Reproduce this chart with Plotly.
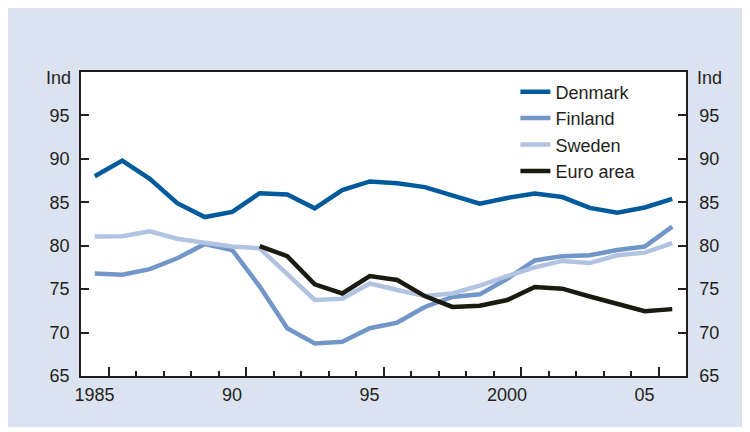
import plotly.graph_objects as go

# mid-year observations, 1984.5 .. 2005.5
years = [1984.5 + i for i in range(22)]

denmark = [88.0, 89.8, 87.7, 84.9, 83.3, 83.9, 86.05, 85.9, 84.3, 86.4, 87.4,
           87.2, 86.75, 85.8, 84.85, 85.5, 86.0, 85.6, 84.35, 83.8, 84.4, 85.4]
finland = [76.8, 76.65, 77.3, 78.55, 80.2, 79.5, 75.3, 70.5, 68.75, 68.95, 70.5,
           71.15, 72.95, 74.1, 74.4, 76.2, 78.3, 78.8, 78.9, 79.5, 79.9, 82.2]
sweden = [81.05, 81.1, 81.65, 80.8, 80.35, 79.9, 79.7, 76.8, 73.75, 73.9, 75.65,
          74.9, 74.2, 74.5, 75.4, 76.5, 77.5, 78.25, 78.0, 78.9, 79.2, 80.3]
euro_years = years[6:]
euro_area = [79.95, 78.8, 75.55, 74.5, 76.5, 76.05, 74.2, 72.95, 73.1, 73.75,
             75.25, 75.05, 74.15, 73.3, 72.45, 72.7]

tick_years = [1985, 1990, 1995, 2000, 2005]
tick_text = ["1985", "90", "95", "2000", "05"]
y_ticks = [65, 70, 75, 80, 85, 90, 95]

FONT = "Liberation Sans, Arial, sans-serif"
INK = "#231f20"
PANEL = "#dce3f0"
FS = 18

fig = go.Figure()

series = [
    ("Denmark", years, denmark, "#005a9c"),
    ("Finland", years, finland, "#7396c8"),
    ("Sweden", years, sweden, "#b2c3e1"),
    ("Euro area", euro_years, euro_area, "#1b1a10"),
]
for name, xs, ys, col in series:
    fig.add_trace(go.Scatter(
        x=xs, y=ys, mode="lines", name=name,
        line=dict(color=col, width=4.5),
    ))

# invisible trace so the right-hand axis is drawn
fig.add_trace(go.Scatter(x=years, y=denmark, yaxis="y2", mode="lines",
                         line=dict(width=0), opacity=0, showlegend=False,
                         hoverinfo="skip"))

# grey-blue panel behind the chart, white plot area on top of it
fig.add_shape(type="rect", xref="paper", yref="paper", layer="below",
              x0=-0.1256, x1=1.099, y0=-0.168, y1=1.214,
              fillcolor=PANEL, line_width=0)
fig.add_shape(type="rect", xref="paper", yref="paper", layer="below",
              x0=0, x1=1, y0=0, y1=1, fillcolor="white", line_width=0)

for xpos, anchor in [(-0.013, "right"), (1.015, "left")]:
    fig.add_annotation(x=xpos, y=0.98, xref="paper", yref="paper",
                       text="Ind", showarrow=False, xanchor=anchor,
                       yanchor="middle", font=dict(size=FS, color=INK, family=FONT))

yaxis_common = dict(
    range=[65, 100], tickvals=y_ticks, ticks="inside", ticklen=8,
    tickwidth=1.5, tickcolor=INK, showline=True, linecolor=INK, linewidth=1.5,
    showgrid=False, zeroline=False,
    tickfont=dict(size=FS, color=INK, family=FONT),
)

# the page body adds an 8px offset, so margins are shifted to compensate
fig.update_layout(
    width=750, height=432,
    margin=dict(l=73, r=72, t=64, b=64),
    paper_bgcolor="white", plot_bgcolor="rgba(0,0,0,0)",
    font=dict(family=FONT, color=INK, size=FS),
    showlegend=True,
    legend=dict(x=0.718, y=0.995, xanchor="left", yanchor="top",
                bgcolor="rgba(0,0,0,0)",
                font=dict(size=FS, color=INK, family=FONT)),
    xaxis=dict(
        range=[1984, 2006], tickvals=tick_years, ticktext=tick_text,
        ticks="inside", ticklen=9, tickwidth=1.5, tickcolor=INK,
        minor=dict(tick0=1984, dtick=1, ticks="inside", ticklen=5,
                   tickwidth=1.5, tickcolor=INK),
        showline=True, linecolor=INK, linewidth=1.5, mirror=True,
        showgrid=False, zeroline=False, ticklabelstandoff=2,
        ticklabelshift=-14,
        tickfont=dict(size=FS, color=INK, family=FONT),
    ),
    yaxis=dict(side="left", ticklabelstandoff=6, **yaxis_common),
    yaxis2=dict(side="right", overlaying="y", ticklabelstandoff=8,
                **yaxis_common),
)

fig.write_html("out.html")
